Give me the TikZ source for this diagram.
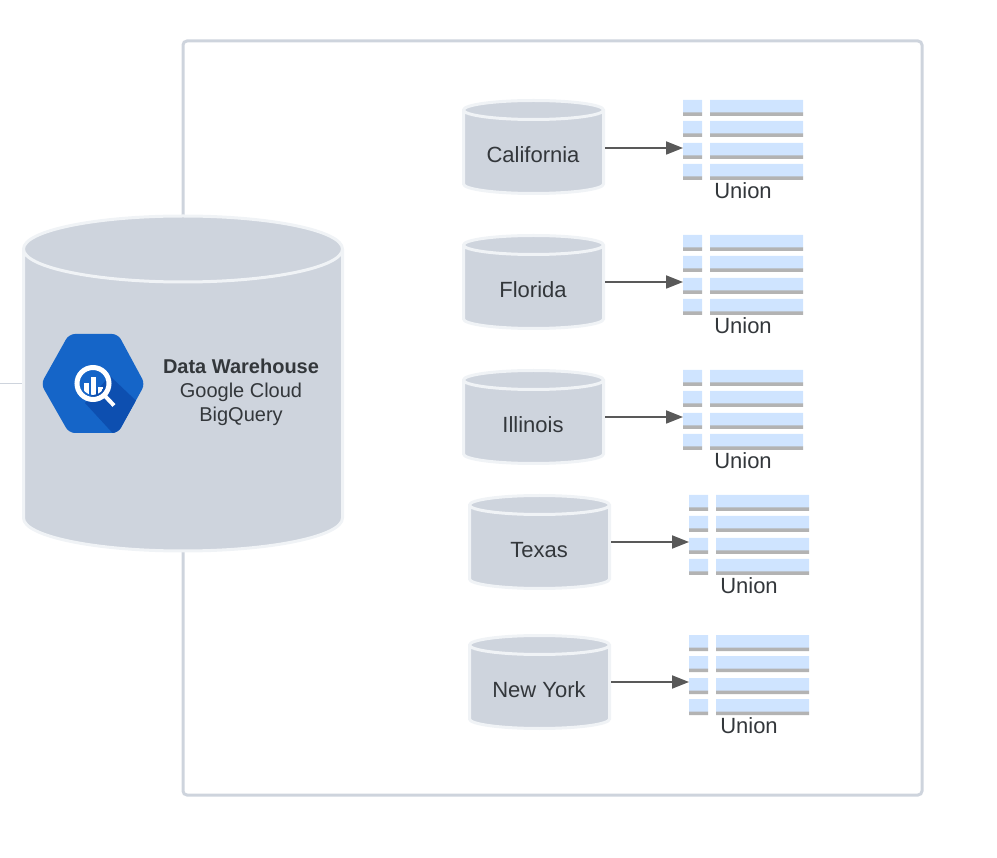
\documentclass[tikz,border=0pt]{standalone}
\usepackage{fontspec}
\setmainfont{Liberation Sans}
\usetikzlibrary{arrows.meta}
\definecolor{tankfill}{HTML}{CED4DD}
\definecolor{tankedge}{HTML}{F0F3F6}
\definecolor{rowblue}{HTML}{CFE4FF}
\definecolor{rowgrey}{HTML}{B3B3B3}
\definecolor{inkdark}{HTML}{33373B}
\definecolor{arrowgrey}{HTML}{595959}
\definecolor{hexblue}{HTML}{1565C8}
\definecolor{hexdark}{HTML}{0D4FB0}
\tikzset{
	tank/.style = {draw = tankedge, fill = tankfill, line width = 3pt},
	smallend/.style = {x radius = 70pt, y radius = 9.5pt},
	bigend/.style = {x radius = 159.5pt, y radius = 33pt},
	tankbox/.style = {minimum width = 143pt, minimum height = 90pt, inner sep = 0pt},
	statelabel/.style = {text = inkdark, font = \fontsize{22}{24}\selectfont},
	union/.style = {text = inkdark, font = \fontsize{22}{24}\selectfont},
	feed/.style = {draw = arrowgrey, line width = 1.8pt, -{Triangle[length = 17pt, width = 13pt]}},
}
\begin{document}
\begin{tikzpicture}[x = 1pt, y = -1pt]
	\useasboundingbox (0, 0) rectangle (997, 858);

	% frame and stub behind the warehouse
	\draw[tankfill, line width = 3pt, rounded corners = 4pt] (183, 41) rectangle (922, 795);
	\coordinate (stub) at (0, 383.5);
	\node[minimum width = 322pt, minimum height = 336pt, inner sep = 0pt] (warehouse) at (183, 383.5) {};
	\draw[tankfill, line width = 1.5pt] (stub) -- (warehouse.west);
	\draw[tank] (23.5, 249) arc[start angle = 180, end angle = 0, bigend] -- (342.5, 518) arc[start angle = 0, end angle = -180, bigend] -- cycle
		(342.5, 249) arc[start angle = 0, end angle = -180, bigend];
	\node[text = inkdark, align = center, font = \fontsize{20}{24}\selectfont] (warehousetext) at (241, 392) {\textbf{Data Warehouse}\\Google Cloud\\BigQuery};

	% logo
	\fill[hexblue, rounded corners = 6pt] (41, 384) -- (69, 334) -- (118, 334) -- (145, 384) -- (118, 433) -- (69, 433) -- cycle;
	\begin{scope}
		\clip[rounded corners = 6pt] (41, 384) -- (69, 334) -- (118, 334) -- (145, 384) -- (118, 433) -- (69, 433) -- cycle;
		\fill[hexdark] (110, 376) -- (150, 414) -- (150, 440) -- (119, 440) -- (85, 403) -- cycle;
	\end{scope}
	\draw[white, line width = 5pt] (93, 383.5) circle (16pt);
	\draw[white, line width = 4pt] (105, 396) -- (114, 405.5);
	\begin{scope}
		\clip (93, 383.5) circle (11.5pt);
		\fill[white] (84, 383) rectangle (89, 400);
		\fill[white] (91, 377) rectangle (96, 400);
		\fill[white] (98, 387) rectangle (103, 400);
	\end{scope}

	% states
	\node[tankbox] (california) at (533.5, 148) {};
	\draw[tank] (463.5, 110) arc[start angle = 180, end angle = 0, smallend] -- (603.5, 184) arc[start angle = 0, end angle = -180, smallend] -- cycle
		(603.5, 110) arc[start angle = 0, end angle = -180, smallend];
	\node[statelabel] (californialabel) at (533, 155) {California};

	\node[tankbox] (florida) at (533.5, 282) {};
	\draw[tank] (463.5, 245) arc[start angle = 180, end angle = 0, smallend] -- (603.5, 319) arc[start angle = 0, end angle = -180, smallend] -- cycle
		(603.5, 245) arc[start angle = 0, end angle = -180, smallend];
	\node[statelabel] (floridalabel) at (533, 290) {Florida};

	\node[tankbox] (illinois) at (533.5, 417) {};
	\draw[tank] (463.5, 380) arc[start angle = 180, end angle = 0, smallend] -- (603.5, 454) arc[start angle = 0, end angle = -180, smallend] -- cycle
		(603.5, 380) arc[start angle = 0, end angle = -180, smallend];
	\node[statelabel] (illinoislabel) at (533, 425) {Illinois};

	\node[tankbox] (texas) at (539.5, 542) {};
	\draw[tank] (469.5, 505) arc[start angle = 180, end angle = 0, smallend] -- (609.5, 579) arc[start angle = 0, end angle = -180, smallend] -- cycle
		(609.5, 505) arc[start angle = 0, end angle = -180, smallend];
	\node[statelabel] (texaslabel) at (539, 550) {Texas};

	\node[tankbox] (newyork) at (539.5, 682) {};
	\draw[tank] (469.5, 645) arc[start angle = 180, end angle = 0, smallend] -- (609.5, 719) arc[start angle = 0, end angle = -180, smallend] -- cycle
		(609.5, 645) arc[start angle = 0, end angle = -180, smallend];
	\node[statelabel] (newyorklabel) at (539, 690) {New York};

	% tables
	\fill[rowblue] (683, 100) rectangle ++(19, 13) (710, 100) rectangle ++(93, 13);
	\fill[rowgrey] (683, 112.5) rectangle ++(19, 3.5)  (710, 112.5) rectangle ++(93, 3.5);
	\fill[rowblue] (683, 121) rectangle ++(19, 13) (710, 121) rectangle ++(93, 13);
	\fill[rowgrey] (683, 133.5) rectangle ++(19, 3.5)  (710, 133.5) rectangle ++(93, 3.5);
	\fill[rowblue] (683, 143) rectangle ++(19, 13) (710, 143) rectangle ++(93, 13);
	\fill[rowgrey] (683, 155.5) rectangle ++(19, 3.5)  (710, 155.5) rectangle ++(93, 3.5);
	\fill[rowblue] (683, 164) rectangle ++(19, 13) (710, 164) rectangle ++(93, 13);
	\fill[rowgrey] (683, 176.5) rectangle ++(19, 3.5)  (710, 176.5) rectangle ++(93, 3.5);

	\fill[rowblue] (683, 235) rectangle ++(19, 13) (710, 235) rectangle ++(93, 13);
	\fill[rowgrey] (683, 247.5) rectangle ++(19, 3.5)  (710, 247.5) rectangle ++(93, 3.5);
	\fill[rowblue] (683, 256) rectangle ++(19, 13) (710, 256) rectangle ++(93, 13);
	\fill[rowgrey] (683, 268.5) rectangle ++(19, 3.5)  (710, 268.5) rectangle ++(93, 3.5);
	\fill[rowblue] (683, 278) rectangle ++(19, 13) (710, 278) rectangle ++(93, 13);
	\fill[rowgrey] (683, 290.5) rectangle ++(19, 3.5)  (710, 290.5) rectangle ++(93, 3.5);
	\fill[rowblue] (683, 299) rectangle ++(19, 13) (710, 299) rectangle ++(93, 13);
	\fill[rowgrey] (683, 311.5) rectangle ++(19, 3.5)  (710, 311.5) rectangle ++(93, 3.5);

	\fill[rowblue] (683, 370) rectangle ++(19, 13) (710, 370) rectangle ++(93, 13);
	\fill[rowgrey] (683, 382.5) rectangle ++(19, 3.5)  (710, 382.5) rectangle ++(93, 3.5);
	\fill[rowblue] (683, 391) rectangle ++(19, 13) (710, 391) rectangle ++(93, 13);
	\fill[rowgrey] (683, 403.5) rectangle ++(19, 3.5)  (710, 403.5) rectangle ++(93, 3.5);
	\fill[rowblue] (683, 413) rectangle ++(19, 13) (710, 413) rectangle ++(93, 13);
	\fill[rowgrey] (683, 425.5) rectangle ++(19, 3.5)  (710, 425.5) rectangle ++(93, 3.5);
	\fill[rowblue] (683, 434) rectangle ++(19, 13) (710, 434) rectangle ++(93, 13);
	\fill[rowgrey] (683, 446.5) rectangle ++(19, 3.5)  (710, 446.5) rectangle ++(93, 3.5);

	\fill[rowblue] (689, 495) rectangle ++(19, 13) (716, 495) rectangle ++(93, 13);
	\fill[rowgrey] (689, 507.5) rectangle ++(19, 3.5)  (716, 507.5) rectangle ++(93, 3.5);
	\fill[rowblue] (689, 516) rectangle ++(19, 13) (716, 516) rectangle ++(93, 13);
	\fill[rowgrey] (689, 528.5) rectangle ++(19, 3.5)  (716, 528.5) rectangle ++(93, 3.5);
	\fill[rowblue] (689, 538) rectangle ++(19, 13) (716, 538) rectangle ++(93, 13);
	\fill[rowgrey] (689, 550.5) rectangle ++(19, 3.5)  (716, 550.5) rectangle ++(93, 3.5);
	\fill[rowblue] (689, 559) rectangle ++(19, 13) (716, 559) rectangle ++(93, 13);
	\fill[rowgrey] (689, 571.5) rectangle ++(19, 3.5)  (716, 571.5) rectangle ++(93, 3.5);

	\fill[rowblue] (689, 635) rectangle ++(19, 13) (716, 635) rectangle ++(93, 13);
	\fill[rowgrey] (689, 647.5) rectangle ++(19, 3.5)  (716, 647.5) rectangle ++(93, 3.5);
	\fill[rowblue] (689, 656) rectangle ++(19, 13) (716, 656) rectangle ++(93, 13);
	\fill[rowgrey] (689, 668.5) rectangle ++(19, 3.5)  (716, 668.5) rectangle ++(93, 3.5);
	\fill[rowblue] (689, 678) rectangle ++(19, 13) (716, 678) rectangle ++(93, 13);
	\fill[rowgrey] (689, 690.5) rectangle ++(19, 3.5)  (716, 690.5) rectangle ++(93, 3.5);
	\fill[rowblue] (689, 699) rectangle ++(19, 13) (716, 699) rectangle ++(93, 13);
	\fill[rowgrey] (689, 711.5) rectangle ++(19, 3.5)  (716, 711.5) rectangle ++(93, 3.5);

	% table ends the arrows run to
	\coordinate (californiatable) at (683, 148);
	\coordinate (floridatable)    at (683, 282);
	\coordinate (illinoistable)   at (683, 417);
	\coordinate (texastable)      at (689, 542);
	\coordinate (newyorktable)    at (689, 682);

	\draw[feed] (california.east) -- (californiatable);
	\draw[feed] (florida.east)    -- (floridatable);
	\draw[feed] (illinois.east)   -- (illinoistable);
	\draw[feed] (texas.east)      -- (texastable);
	\draw[feed] (newyork.east)    -- (newyorktable);

	\node[union] (californiaunion) at (743, 190.5) {Union};
	\node[union] (floridaunion)    at (743, 325.5) {Union};
	\node[union] (illinoisunion)   at (743, 460.5) {Union};
	\node[union] (texasunion)      at (749, 585.5) {Union};
	\node[union] (newyorkunion)    at (749, 725.5) {Union};
\end{tikzpicture}
\end{document}
